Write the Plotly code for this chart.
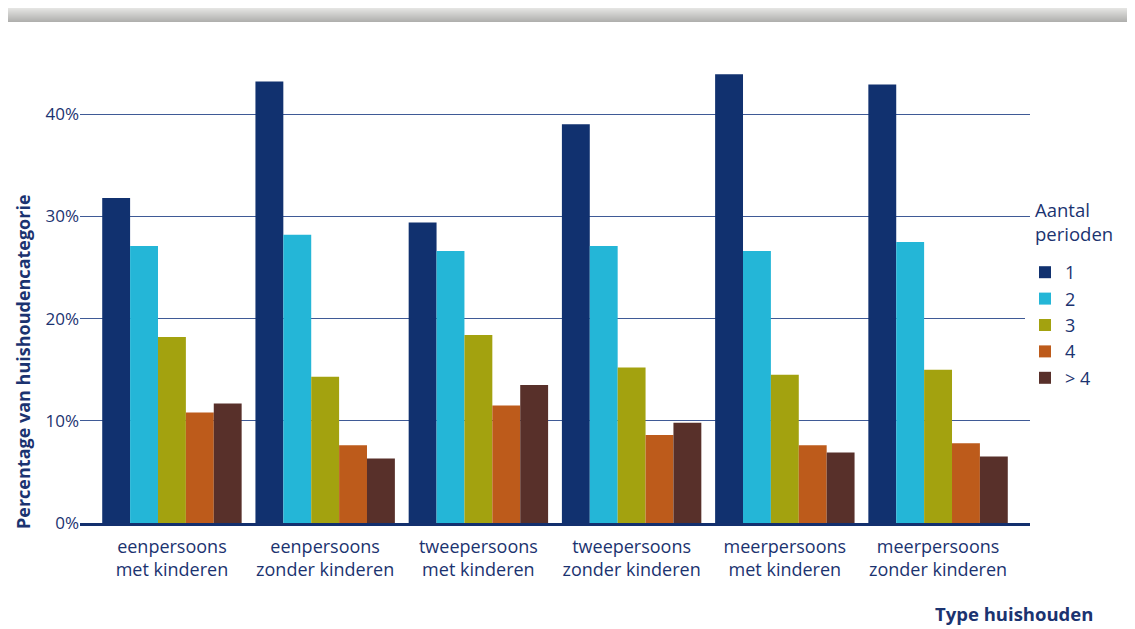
import plotly.graph_objects as go

categories = ["eenpersoons<br>met kinderen", "eenpersoons<br>zonder kinderen",
              "tweepersoons<br>met kinderen", "tweepersoons<br>zonder kinderen",
              "meerpersoons<br>met kinderen", "meerpersoons<br>zonder kinderen"]
series_names = ["1", "2", "3", "4", "> 4"]
v1 = [31.8, 43.2, 29.4, 39.0, 43.9, 42.9]
v2 = [27.1, 28.2, 26.6, 27.1, 26.6, 27.5]
v3 = [18.2, 14.3, 18.4, 15.2, 14.5, 15.0]
v4 = [10.8, 7.6, 11.5, 8.6, 7.6, 7.8]
v5 = [11.7, 6.3, 13.5, 9.8, 6.9, 6.5]
values = [v1, v2, v3, v4, v5]
colors = ["#11316f", "#24b6d7", "#a3a20f", "#bd5b1b", "#58302a"]
y_ticks = [0, 10, 20, 30, 40]
y_tick_labels = ["0%", "10%", "20%", "30%", "40%"]

navy = "#1b3370"
font_family = "'Open Sans', sans-serif"

# page is offset by the 8px body margin; plot area in figure pixels
L, T, W, H = 72, 55, 950, 460


def px_x(x):  # figure pixel -> paper x
    return (x - L) / W


def px_y(y):  # figure pixel -> paper y
    return (T + H - y) / H


fig = go.Figure()
for name, vals, col in zip(series_names, values, colors):
    fig.add_trace(go.Bar(x=categories, y=vals, name=name, marker_color=col,
                         marker_line_width=0))

# top grey gradient band
steps = 14
for i in range(steps):
    t = i / (steps - 1)
    g = int(228 - (228 - 176) * t)
    fig.add_shape(type="rect", xref="paper", yref="paper",
                  x0=px_x(0), x1=px_x(1135),
                  y0=px_y(14 * (i + 1) / steps), y1=px_y(14 * i / steps),
                  line_width=0, fillcolor=f"rgb({g},{g},{g-2})", layer="below")

fig.update_layout(
    width=1135, height=629,
    margin=dict(l=L, r=1135 - L - W, t=T, b=629 - T - H, autoexpand=False),
    paper_bgcolor="white", plot_bgcolor="white",
    barmode="group", bargap=0.09, bargroupgap=0,
    font=dict(family=font_family, color=navy, size=16),
    showlegend=True,
    legend=dict(x=px_x(1017), y=px_y(246), xanchor="left", yanchor="top",
                font=dict(size=18, color=navy), tracegroupgap=0, itemwidth=30),
    xaxis=dict(range=[-0.6, 5.6], showgrid=False, showline=True, linecolor="#13306e",
               linewidth=3, ticks="", tickfont=dict(size=18, color=navy),
               ticklabelstandoff=5),
    yaxis=dict(range=[0, 45], tickvals=y_ticks, ticktext=y_tick_labels, showgrid=True,
               gridcolor="#3f5a96", gridwidth=1, zeroline=False, ticks="",
               tickfont=dict(size=17, color=navy), showline=False),
    annotations=[
        dict(text="<b>Type huishouden</b>", xref="paper", yref="paper",
             x=px_x(1087), y=px_y(605), xanchor="right", yanchor="middle",
             showarrow=False, font=dict(size=18.5, color=navy)),
        dict(text="<b>Percentage van huishoudencategorie</b>", xref="paper", yref="paper",
             x=px_x(15), y=px_y(354), xanchor="center", yanchor="middle",
             textangle=-90, showarrow=False, font=dict(size=18, color=navy)),
        dict(text="Aantal<br>perioden", xref="paper", yref="paper",
             x=px_x(1025), y=px_y(213), xanchor="left", yanchor="middle",
             align="left", showarrow=False, font=dict(size=18.5, color=navy)),
    ],
)

fig.write_html("out.html")
